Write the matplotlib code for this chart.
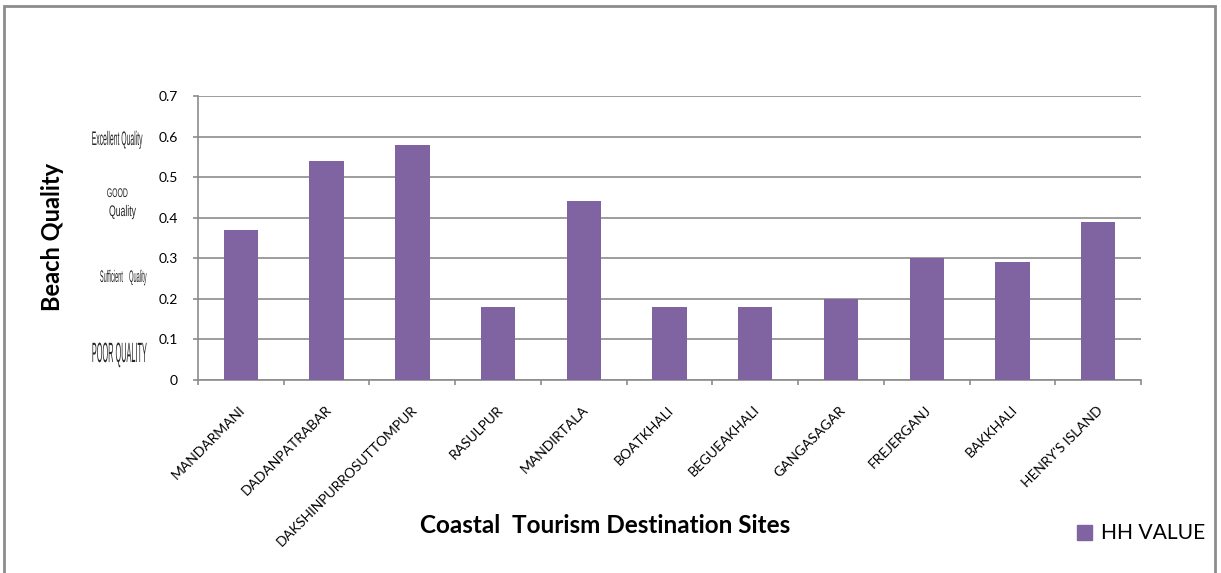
import matplotlib.pyplot as plt
from matplotlib.patches import Rectangle
from matplotlib.lines import Line2D
from matplotlib.transforms import Affine2D
from matplotlib import patheffects

sites = ["MANDARMANI", "DADANPATRABAR", "DAKSHINPURROSUTTOMPUR", "RASULPUR",
         "MANDIRTALA", "BOATKHALI", "BEGUEAKHALI", "GANGASAGAR",
         "FREJERGANJ", "BAKKHALI", "HENRY'S ISLAND"]
hh_value = [0.37, 0.54, 0.58, 0.18, 0.44, 0.18, 0.18, 0.20, 0.30, 0.29, 0.39]
y_ticks = [0, 0.1, 0.2, 0.3, 0.4, 0.5, 0.6, 0.7]
y_tick_labels = ["0", "0.1", "0.2", "0.3", "0.4", "0.5", "0.6", "0.7"]

# quality notes beside the value axis: text, centre x, baseline y (figure fraction),
# width and cap height in pixels (the notes are tall, squeezed lettering)
quality_text = ["Excellent Quality", "GOOD", "Quality", "Sufficient    Quality", "POOR QUALITY"]
quality_x = [0.0962, 0.0962, 0.1003, 0.1011, 0.0979]
quality_y = [0.7470, 0.6562, 0.6230, 0.5079, 0.3682]
quality_w = [51, 21, 27, 47, 55]
quality_cap = [14, 9, 11, 12, 20]

plt.rcParams['font.family'] = ['Lato', 'DejaVu Sans']
bar_color = "#8064A2"
axis_grey = "#8c8c8c"


class Stretch(patheffects.AbstractPathEffect):
    """Stretch glyphs vertically about the baseline."""

    def __init__(self, sy):
        super().__init__()
        self.sy = sy

    def draw_path(self, renderer, gc, tpath, affine, rgbFace=None):
        renderer.draw_path(gc, tpath, Affine2D().scale(1, self.sy) + affine, rgbFace)


fig = plt.figure(figsize=(12.21, 5.73), dpi=100)
ax = fig.add_axes([0.1622, 0.3368, 0.7723, 0.4957])

x = list(range(len(sites)))
ax.bar(x, hh_value, width=0.4, color=bar_color, zorder=3)

ax.set_xlim(-0.5, len(sites) - 0.5)
ax.set_ylim(0, 0.7)
ax.set_yticks(y_ticks)
ax.set_yticklabels(y_tick_labels, fontsize=10)
ax.yaxis.grid(True, color=axis_grey, linewidth=1.2, zorder=0)

# ticks on the category boundaries, names at the bar centres
ax.set_xticks([i - 0.5 for i in range(len(sites) + 1)])
ax.set_xticklabels([])
ax.tick_params(axis='x', direction='out', length=3.6, color=axis_grey, width=1.2)
ax.tick_params(axis='y', direction='out', length=3.6, color=axis_grey, width=1.2, pad=11)
for i, name in enumerate(sites):
    ax.text(i + 0.03, -0.069, name, rotation=45, rotation_mode='anchor',
            ha='right', va='center', fontsize=10)

for side in ['top', 'right']:
    ax.spines[side].set_visible(False)
for side in ['left', 'bottom']:
    ax.spines[side].set_color(axis_grey)
    ax.spines[side].set_linewidth(1.2)

renderer = fig.canvas.get_renderer()
for label, qx, qy, qw, qc in zip(quality_text, quality_x, quality_y, quality_w, quality_cap):
    t = fig.text(qx, qy, label, ha='center', va='baseline', fontsize=10,
                 family='Liberation Sans', color='#222222')
    w = t.get_window_extent(renderer).width
    fs = 10 * qw / w
    t.set_fontsize(fs)
    cap_px = 0.716 * fs * fig.dpi / 72
    t.set_path_effects([Stretch(qc / cap_px)])

fig.text(0.0426, 0.5864, "Beach Quality", rotation=90, ha='center', va='center',
         fontsize=17, fontweight='bold')
fig.text(0.4955, 0.083, "Coastal  Tourism Destination Sites", ha='center', va='center',
         fontsize=17.5, fontweight='bold')

handle = Line2D([], [], marker='s', linestyle='none', markersize=10.8,
                markerfacecolor=bar_color, markeredgecolor=bar_color)
fig.legend([handle], ["HH VALUE"], loc='center left', bbox_to_anchor=(0.8792, 0.0698),
           frameon=False, fontsize=15.2, handletextpad=0.3, handlelength=1.0,
           borderpad=0, borderaxespad=0)

# outer chart frame
fig.patches.append(Rectangle((0.0033, -0.05), 0.9914, 1.04, transform=fig.transFigure,
                             fill=False, edgecolor=axis_grey, linewidth=2))

fig.savefig("out.png", dpi=100)
